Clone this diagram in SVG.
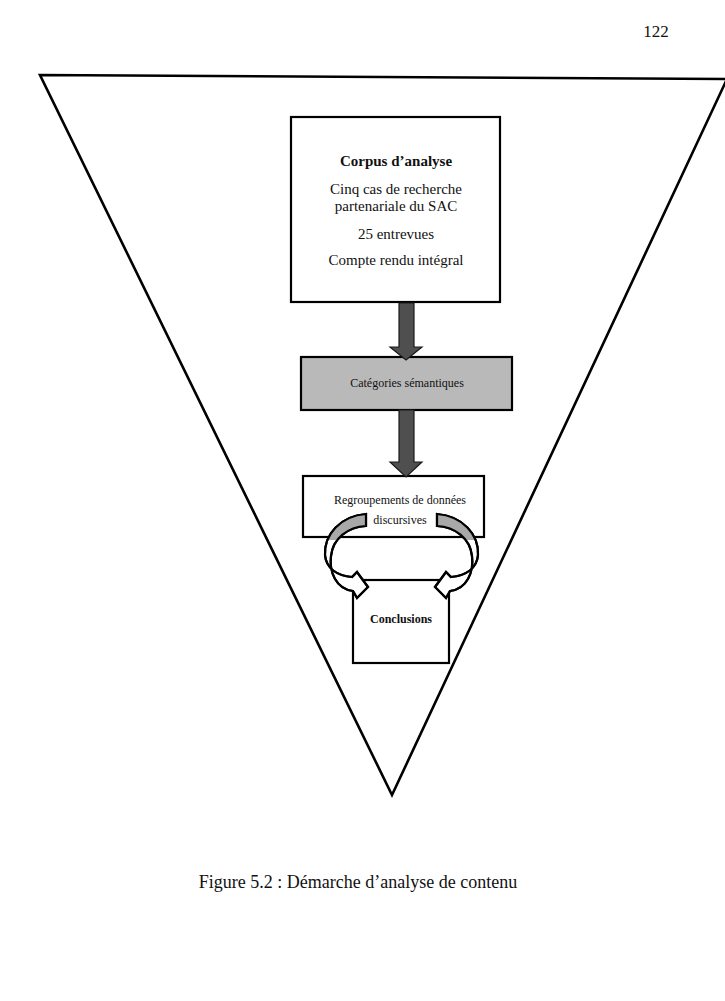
<svg xmlns="http://www.w3.org/2000/svg" width="725" height="1001" viewBox="0 0 725 1001">
<style>
  .box { fill: #ffffff; stroke: #000000; stroke-width: 2.2; }
  .gbox { fill: #b9b9b9; stroke: #000000; stroke-width: 2.2; }
  .t { font-family: "Liberation Serif", "Times New Roman", serif; fill: #111111; text-anchor: middle; }
  .b { font-weight: bold; }
  .thick { fill: #4f4f4f; stroke: #1a1a1a; stroke-width: 1.2; }
  .curl { fill: #ffffff; stroke: #000000; stroke-width: 2.2; stroke-linejoin: miter; }
  .curlshade { fill: #a8a8a8; stroke: none; }
</style>
<defs>
  <path id="curlL" d="M366,514 C340,516 324,535 325,555 C326,568 337,576 352,577 L357,572 L368,587 L357,598 L353,591 C336,589 329,572 331,556 C333,538 348,527 366,526 Z"/>
  <clipPath id="topClip"><rect x="0" y="0" width="725" height="540"/></clipPath>
</defs>
<rect width="725" height="1001" fill="#ffffff"/>
<text class="t" x="656" y="37" font-size="17">122</text>

<g id="triangle">
  <polygon points="40,75 727,79 392,795" fill="none" stroke="#000000" stroke-width="2.6" stroke-linejoin="miter"/>
</g>

<g id="corpus">
  <rect class="box" x="291" y="117" width="209" height="185"/>
  <text class="t b" x="396" y="166" font-size="15">Corpus d’analyse</text>
  <text class="t" x="396" y="194" font-size="15">Cinq cas de recherche</text>
  <text class="t" x="396" y="211" font-size="15">partenariale du SAC</text>
  <text class="t" x="396" y="239" font-size="15">25 entrevues</text>
  <text class="t" x="396" y="265" font-size="15">Compte rendu intégral</text>
</g>

<g id="categories">
  <rect class="gbox" x="301" y="357" width="211" height="53"/>
  <text class="t" x="407" y="387" font-size="12">Catégories sémantiques</text>
</g>

<g id="regroupements">
  <rect class="box" x="303" y="476" width="181" height="61"/>
  <text class="t" x="400" y="504" font-size="12">Regroupements de données</text>
  <text class="t" x="400" y="524" font-size="12">discursives</text>
</g>

<g id="conclusions">
  <rect class="box" x="353" y="580" width="96" height="83"/>
  <text class="t b" x="401" y="623" font-size="12">Conclusions</text>
</g>

<g id="connectors">
  <polygon class="thick" points="399,303 414,303 414,347 422,347 406,360 390,347 399,347"/>
  <polygon class="thick" points="399,410 414,410 414,462 422,462 406,477 390,462 399,462"/>
  <g id="curl-left">
    <use href="#curlL" class="curl"/>
    <use href="#curlL" class="curlshade" clip-path="url(#topClip)"/>
    <use href="#curlL" fill="none" stroke="#000000" stroke-width="2.2"/>
  </g>
  <g id="curl-right" transform="translate(803,0) scale(-1,1)">
    <use href="#curlL" class="curl"/>
    <use href="#curlL" class="curlshade" clip-path="url(#topClip)"/>
    <use href="#curlL" fill="none" stroke="#000000" stroke-width="2.2"/>
  </g>
</g>

<text class="t" x="358" y="888" font-size="18">Figure 5.2 : Démarche d’analyse de contenu</text>
</svg>
